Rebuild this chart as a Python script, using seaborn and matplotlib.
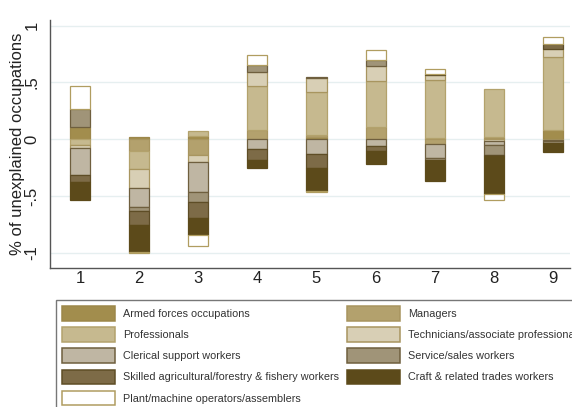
import numpy as np
import pandas as pd
import matplotlib
matplotlib.use("Agg")
import matplotlib.pyplot as plt
from matplotlib.patches import Patch
import seaborn as sns

# groups on the x axis
groups = ["1", "2", "3", "4", "5", "6", "7", "8", "9"]

occupations = [
    "Armed forces occupations",
    "Managers",
    "Professionals",
    "Technicians/associate professionals",
    "Clerical support workers",
    "Service/sales workers",
    "Skilled agricultural/forestry & fishery workers",
    "Craft & related trades workers",
    "Plant/machine operators/assemblers",
]

# share of unexplained occupations per group
armed = [0.11, 0.015, 0.03, 0.0, 0.015, 0.0, 0.01, 0.008, 0.082]
managers = [0.0, -0.10, -0.138, 0.082, 0.023, 0.103, -0.045, 0.01, -0.01]
professionals = [-0.055, -0.162, 0.038, 0.388, 0.382, 0.406, 0.515, 0.423, 0.642]
technicians = [-0.025, -0.17, -0.062, 0.118, 0.118, 0.132, 0.038, -0.02, 0.07]
clerical = [-0.24, -0.162, -0.262, -0.09, -0.132, -0.056, -0.125, -0.03, -0.01]
service = [0.153, -0.036, -0.088, 0.068, 0.01, 0.06, -0.01, -0.09, -0.01]
skilled = [-0.055, -0.126, -0.147, -0.09, -0.118, -0.045, 0.012, -0.01, 0.047]
craft = [-0.165, -0.234, -0.147, -0.076, -0.203, -0.115, -0.19, -0.33, -0.08]
plant = [0.205, -0.01, -0.096, 0.09, -0.01, 0.088, 0.046, -0.06, 0.06]

series = [armed, managers, professionals, technicians, clerical,
          service, skilled, craft, plant]

fill_colors = ["#A28D4D", "#B3A16D", "#C6B98F", "#D8CFB5", "#BFB6A3",
               "#A09478", "#7D6B47", "#5C4A1A", "#FFFFFF"]
edge_colors = ["#9C874A", "#A8955F", "#B3A26C", "#A8955F", "#6F5F3E",
               "#6F5F3E", "#5E4D26", "#5C4A1A", "#B09D60"]

sns.set_theme(style="white")
plt.rcParams["font.family"] = ["Liberation Sans", "DejaVu Sans"]

fig = plt.figure(figsize=(5.72, 4.07), dpi=100)
ax = fig.add_axes([50 / 572, 1 - 268 / 407, 520 / 572, 248 / 407])

# stack positives upward and negatives downward from zero
pos_base = np.zeros(len(groups))
neg_base = np.zeros(len(groups))
for name, vals, fc, ec in zip(occupations, series, fill_colors, edge_colors):
    v = np.array(vals, dtype=float)
    bottom = np.where(v >= 0, pos_base, neg_base)
    keep = v != 0
    df = pd.DataFrame({"group": np.array(groups)[keep], "share": v[keep]})
    sns.barplot(data=df, x="group", y="share", order=groups, color=fc,
                saturation=1, width=0.34, errorbar=None, bottom=bottom[keep],
                edgecolor=ec, linewidth=0.9, ax=ax)
    pos_base += np.where(v > 0, v, 0)
    neg_base += np.where(v < 0, v, 0)

ax.set_xlim(-0.51, 8.29)
ax.set_ylim(-1.135, 1.05)
ax.set_yticks([-1, -0.5, 0, 0.5, 1])
ax.set_yticklabels(["-1", "-.5", "0", ".5", "1"], rotation=90, va="center")
ax.yaxis.grid(True, color="#E6EFF0", linewidth=1.0)
ax.set_axisbelow(True)
ax.set_xlabel("")
ax.set_ylabel("% of unexplained occupations", fontsize=12, color="#222222",
              labelpad=0)
ax.tick_params(axis="both", labelsize=12, colors="#222222", length=4,
               width=0.8, direction="out")
ax.tick_params(axis="x", length=0, pad=2)
for side in ["top", "right"]:
    ax.spines[side].set_visible(False)
for side in ["left", "bottom"]:
    ax.spines[side].set_color("#555555")
    ax.spines[side].set_linewidth(1.0)

# legend in row order like the original
handles = [Patch(facecolor=fc, edgecolor=ec, linewidth=1.1)
           for fc, ec in zip(fill_colors, edge_colors)]
order = [0, 2, 4, 6, 8, 1, 3, 5, 7]
leg = fig.legend([handles[i] for i in order], [occupations[i] for i in order],
                 loc="upper left", bbox_to_anchor=(56 / 572, 1 - 300 / 407),
                 ncol=2, fontsize=7.8, handlelength=4.86, handleheight=1.71,
                 handletextpad=0.78, labelspacing=0.6, columnspacing=0.74,
                 borderpad=0.55, borderaxespad=0, frameon=True, fancybox=False)
leg.get_frame().set_edgecolor("#555555")
leg.get_frame().set_linewidth(1.0)
for t in leg.get_texts():
    t.set_color("#333333")

fig.savefig("out.png", dpi=100)
